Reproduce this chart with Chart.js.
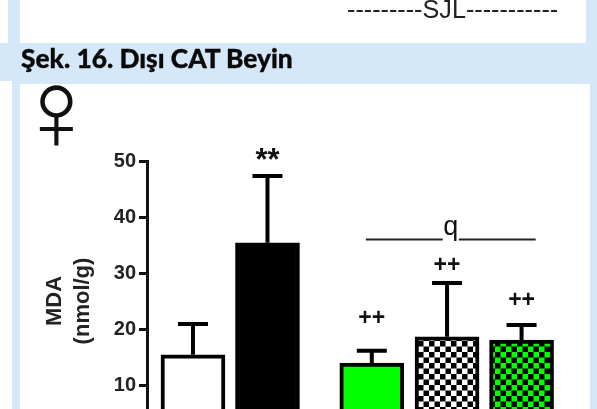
<!DOCTYPE html>
<html><head><meta charset="utf-8">
<script src="https://cdn.jsdelivr.net/npm/chart.js@4"></script>
<style>
html,body{margin:0;padding:0;width:597px;height:409px;overflow:hidden;background:#fff}
.p{position:absolute}
#stage{position:absolute;left:0;top:0;width:597px;height:409px;overflow:hidden;filter:blur(.45px)}
canvas{position:absolute;left:0;top:0}
</style></head><body>
<div id="stage">
<div class="p" style="left:8px;top:0;width:589px;height:43px;background:#d5e8fa"></div>
<div class="p" style="left:20px;top:0;width:566px;height:43px;background:#fff"></div>
<div class="p" style="left:0;top:43px;width:597px;height:38px;background:#d5e8fa"></div>
<div class="p" style="left:12px;top:81px;width:585px;height:328px;background:#d5e8fa"></div>
<div class="p" style="left:20px;top:84px;width:570px;height:325px;background:#fff"></div>
<div class="p" style="left:347px;top:-5px;font:25.2px 'Liberation Sans';color:#222;white-space:nowrap">---------SJL-----------</div>
<div class="p" style="left:21px;top:42px;font:900 26.3px Lato;color:#0a0a0a;white-space:nowrap;-webkit-text-stroke:.35px #0a0a0a">Şek. 16. Dışı CAT Beyin</div>
<div class="p" style="left:13px;top:65px;font:115px 'Liberation Sans';color:#111;line-height:90px">♀</div>
<canvas id="c" width="597" height="470"></canvas>
</div>
<script>
const categories=['A','B','C','D','E'];
const xPositions=[1,2,3.4,4.41,5.41];
const means=[15.4,35.4,13.9,18.6,18.0];
const errorTops=[20.9,47.3,16.1,28.2,20.7];
const yTicks=[0,10,20,30,40,50];
const markText=['**','++','++','++'];
const markX=[2,3.4,4.41,5.41];
const markY=[50.2,21.9,31.4,25.1];
const bracketX=[3.32,5.6];
const bracketY=36;
const bracketLabel='q';

function checker(bg){
  const s=document.createElement('canvas');s.width=11;s.height=11;
  const g=s.getContext('2d');
  g.fillStyle=bg;g.fillRect(0,0,11,11);
  g.fillStyle='#000';g.fillRect(0,0,5.5,5.5);g.fillRect(5.5,5.5,5.5,5.5);
  return g.createPattern(s,'repeat');
}
const ctx0=document.getElementById('c').getContext('2d');
const fills=['#ffffff','#000000','#00ff00',checker('#ffffff'),checker('#00ff00')];

const extras={id:'extras',afterDatasetsDraw(ch){
  const {ctx,scales:{x,y}}=ch;
  ctx.save();ctx.strokeStyle='#000';ctx.fillStyle='#111';
  ctx.lineWidth=4;
  xPositions.forEach((v,i)=>{
    const px=x.getPixelForValue(v),t=y.getPixelForValue(errorTops[i]),b=y.getPixelForValue(means[i]);
    ctx.beginPath();ctx.moveTo(px,b);ctx.lineTo(px,t);ctx.moveTo(px-15,t);ctx.lineTo(px+15,t);ctx.stroke();
  });
  ctx.textAlign='center';ctx.textBaseline='middle';
  markText.forEach((s,i)=>{
    ctx.font=(s==='**'?'bold 31px':'bold 23px')+' "Liberation Sans"';
    ctx.fillText(s,x.getPixelForValue(markX[i]),y.getPixelForValue(markY[i])+(s==='**'?2:0));
  });
  const by=y.getPixelForValue(bracketY),mid=(x.getPixelForValue(bracketX[0])+x.getPixelForValue(bracketX[1]))/2;
  ctx.lineWidth=2;ctx.strokeStyle='#222';
  ctx.beginPath();ctx.moveTo(x.getPixelForValue(bracketX[0]),by);ctx.lineTo(mid-8,by);
  ctx.moveTo(mid+8,by);ctx.lineTo(x.getPixelForValue(bracketX[1]),by);ctx.stroke();
  ctx.font='27px "Liberation Sans"';ctx.textBaseline='alphabetic';
  ctx.fillText(bracketLabel,mid,by-4);
  ctx.restore();
}};

new Chart(ctx0,{
  type:'bar',
  data:{labels:categories,datasets:[{
    data:xPositions.map((v,i)=>({x:v,y:means[i]})),
    backgroundColor:fills,borderColor:'#000',borderWidth:4,barThickness:64
  }]},
  options:{
    responsive:false,animation:false,
    layout:{padding:{left:0,right:27,top:161,bottom:29}},
    plugins:{legend:{display:false},tooltip:{enabled:false}},
    scales:{
      x:{type:'linear',display:false,min:0.383,max:6.06,offset:false},
      y:{min:0,max:50,
        afterFit(s){s.width=147;},
        afterBuildTicks(s){s.ticks=yTicks.map(v=>({value:v}));},
        border:{display:true,color:'#111',width:3},
        grid:{drawOnChartArea:false,drawTicks:true,tickLength:8,tickWidth:3,tickColor:'#111'},
        ticks:{color:'#222',padding:3,font:{family:'Liberation Sans',weight:'bold',size:20}},
        title:{display:true,text:['MDA','(nmol/g)'],color:'#222',
          font:{family:'Liberation Sans',weight:'bold',size:22,lineHeight:1.273},padding:{top:41,bottom:0}}
      }
    }
  },
  plugins:[extras]
});
</script>
</body></html>
